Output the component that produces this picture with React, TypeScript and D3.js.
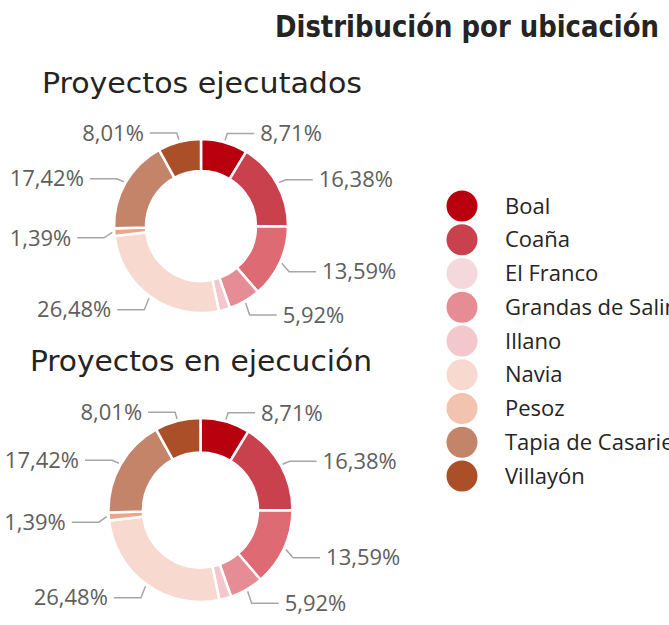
import React from "react";
import * as d3 from "d3";

const municipios = [
  "Boal",
  "Coaña",
  "El Franco",
  "Grandas de Salime",
  "Illano",
  "Navia",
  "Pesoz",
  "Tapia de Casariego",
  "Villayón",
];
const ejecutados = [8.71, 16.38, 13.59, 5.92, 2.1, 26.48, 1.39, 17.42, 8.01];
const enEjecucion = [8.71, 16.38, 13.59, 5.92, 2.1, 26.48, 1.39, 17.42, 8.01];
const sliceColors = [
  "#b8000f",
  "#c9414d",
  "#de6a73",
  "#e58c94",
  "#f3c8cc",
  "#f7d9cf",
  "#eea48a",
  "#c4846a",
  "#aa4f28",
];
const legendColors = [
  "#b8000f",
  "#c9414d",
  "#f5d8db",
  "#e58c94",
  "#f3c8cc",
  "#f7d9cf",
  "#f2c3ae",
  "#c4846a",
  "#aa4f28",
];
const sinEtiqueta = ["Illano"];

const labelFont = "'Segoe UI', 'Open Sans', 'Noto Sans', sans-serif";
const titleFont = "'DejaVu Sans Condensed', 'Liberation Sans Narrow', 'Roboto', sans-serif";

const fmt = (v: number) => d3.format(".2f")(v).replace(".", ",") + "%";

function Donut({ cx, cy, R, r, values }: { cx: number; cy: number; R: number; r: number; values: number[] }) {
  const pieGen = d3.pie<number>().sort(null).value((d) => d);
  const slices = pieGen(values);
  const arcGen = d3.arc<d3.PieArcDatum<number>>().innerRadius(r).outerRadius(R);
  const total = d3.sum(values);

  return (
    <g transform={`translate(${cx},${cy})`}>
      {slices.map((s, i) => (
        <path key={i} d={arcGen(s) || ""} fill={sliceColors[i]} stroke="#fff" strokeWidth={2.5} />
      ))}
      {slices.map((s, i) => {
        if (sinEtiqueta.includes(municipios[i])) return null;
        const a = (s.startAngle + s.endAngle) / 2;
        // labels in the lower part sit a little lower
        const drop = Math.cos(a) < 0.2 ? 5 : 1;
        const p0 = [Math.sin(a) * (R + 2), -Math.cos(a) * (R + 2)];
        const p1 = [Math.sin(a) * (R + 10), -Math.cos(a) * (R + 10) + drop];
        const right = Math.sin(a) >= 0;
        const dir = right ? 1 : -1;
        const p2 = [p1[0] + dir * 27, p1[1]];
        return (
          <g key={"l" + i}>
            <polyline
              points={`${p0[0]},${p0[1]} ${p1[0]},${p1[1]} ${p2[0]},${p2[1]}`}
              fill="none"
              stroke="#a6a6a6"
              strokeWidth={1.5}
            />
            <text
              x={p2[0] + dir * 6}
              y={p1[1]}
              dy="0.35em"
              textAnchor={right ? "start" : "end"}
              fontFamily={labelFont}
              fontSize={22}
              fill="#605e5c"
            >
              {fmt((s.data / total) * 100)}
            </text>
          </g>
        );
      })}
    </g>
  );
}

export default function App() {
  const legendY = d3.scalePoint<string>().domain(municipios).range([206, 476]);
  return (
    <svg
      width={669}
      height={625}
      style={{ position: "absolute", left: 0, top: 0, background: "#fff" }}
    >
      <text
        x={275}
        y={37}
        fontFamily={titleFont}
        fontWeight="bold"
        fontSize={30}
        fill="#252423"
        textLength={384}
        lengthAdjust="spacingAndGlyphs"
      >
        Distribución por ubicación
      </text>
      <text
        x={42}
        y={93}
        fontFamily={titleFont}
        fontSize={29}
        fill="#252423"
        textLength={320}
        lengthAdjust="spacingAndGlyphs"
      >
        Proyectos ejecutados
      </text>
      <Donut cx={201} cy={226} R={87} r={55} values={ejecutados} />
      <text
        x={30}
        y={371}
        fontFamily={titleFont}
        fontSize={29}
        fill="#252423"
        textLength={342}
        lengthAdjust="spacingAndGlyphs"
      >
        Proyectos en ejecución
      </text>
      <Donut cx={200.5} cy={510} R={92} r={57.5} values={enEjecucion} />
      {municipios.map((m, i) => (
        <g key={m} transform={`translate(0,${legendY(m)})`}>
          <circle cx={462} cy={0} r={15.5} fill={legendColors[i]} />
          <text x={505} y={0} dy="0.35em" fontFamily={labelFont} fontSize={22} fill="#252423">
            {m}
          </text>
        </g>
      ))}
    </svg>
  );
}
